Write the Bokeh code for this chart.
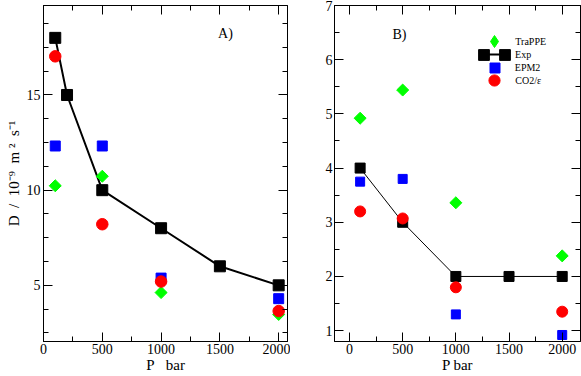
import math
from bokeh.plotting import figure
from bokeh.layouts import row
from bokeh.models import (Range1d, LinearAxis, SingleIntervalTicker, CustomJSTickFormatter,
                          Label, Legend, LegendItem)
from bokeh.embed import file_html
from bokeh.resources import INLINE

FONT = "Liberation Serif"

# ---------------- data ----------------
# Panel A
a_exp_p = [100, 200, 500, 1000, 1500, 2000]
a_exp_d = [18.0, 15.0, 10.0, 8.0, 6.0, 5.0]
a_sim_p = [100, 500, 1000, 2000]
a_trappe = [10.23, 10.73, 4.62, 3.47]
a_epm2 = [12.32, 12.32, 5.38, 4.30]
a_co2e = [17.03, 8.21, 5.20, 3.65]

# Panel B
b_exp_p = [100, 500, 1000, 1500, 2000]
b_exp_d = [4.0, 3.0, 2.0, 2.0, 2.0]
b_sim_p = [100, 500, 1000, 2000]
b_trappe = [4.92, 5.44, 3.36, 2.38]
b_epm2 = [3.75, 3.80, 1.30, 0.92]
b_co2e = [3.20, 3.07, 1.80, 1.35]

GREEN = "#00ff00"
BLUE = "#0000ff"
RED = "#ff0000"

FIG_H = 376
BORDER_TOP = 5
BORDER_BOTTOM = 35
FRAME_H = FIG_H - BORDER_TOP - BORDER_BOTTOM
NB = "\u00a0"


def style(p, xint, xminor, yint, yminor, xlabel, ylabel):
    blank = CustomJSTickFormatter(code="return ''")
    bottom = p.below[0]
    left = p.left[0]
    top = LinearAxis(formatter=blank)
    right = LinearAxis(formatter=blank)
    p.add_layout(top, "above")
    p.add_layout(right, "right")
    for ax, (iv, nm) in ((bottom, (xint, xminor)), (top, (xint, xminor)),
                         (left, (yint, yminor)), (right, (yint, yminor))):
        ax.ticker = SingleIntervalTicker(interval=iv, num_minor_ticks=nm)
        ax.axis_line_color = "black"
        ax.major_tick_line_color = "black"
        ax.minor_tick_line_color = "black"
        ax.major_tick_in = 9
        ax.major_tick_out = 0
        ax.minor_tick_in = 5
        ax.minor_tick_out = 0
        ax.major_label_text_font = FONT
        ax.major_label_text_font_size = "14px"
        ax.major_label_text_color = "black"
        ax.axis_label_text_font = FONT
        ax.axis_label_text_font_size = "15px"
        ax.axis_label_text_font_style = "normal"
        ax.axis_label_text_color = "black"
        ax.major_label_standoff = 2
        ax.axis_label_standoff = 0
    top.major_label_standoff = 0
    right.major_label_standoff = 0
    bottom.axis_label = xlabel
    if ylabel:
        left.axis_label = ylabel
        left.major_label_standoff = 3
        left.axis_label_standoff = 2
    p.xgrid.visible = False
    p.ygrid.visible = False
    p.outline_line_color = "black"
    p.background_fill_color = "white"
    p.border_fill_color = "white"


# ---------------- Panel A ----------------
pa = figure(width=290, height=FIG_H, output_backend="svg", toolbar_location=None,
            x_range=Range1d(0, 2075), y_range=Range1d(2.05, 19.7),
            min_border_left=43, min_border_right=3,
            min_border_top=BORDER_TOP, min_border_bottom=BORDER_BOTTOM)
style(pa, 500, 2, 5, 4, "P" + NB * 3 + "bar",
      "D" + NB * 2 + "/" + NB * 2 + "10\u207b\u2079" + NB * 2 + "m" + NB + "\u00b2"
      + NB * 2 + "s\u207b\u00b9")

pa.line(a_exp_p, a_exp_d, line_color="black", line_width=2)
pa.scatter(a_sim_p, a_trappe, marker="square", angle=math.pi / 4, size=8.5,
           fill_color=GREEN, line_color=GREEN)
pa.scatter(a_sim_p, a_epm2, marker="square", size=10, fill_color=BLUE, line_color=BLUE)
pa.scatter(a_exp_p, a_exp_d, marker="square", size=11, fill_color="black", line_color="black")
pa.scatter(a_sim_p, a_co2e, marker="circle", size=11.5, fill_color=RED, line_color=RED)
pa.add_layout(Label(x=1485, y=18.25, text="A)", text_font=FONT, text_font_size="14px",
                    text_baseline="middle", text_color="black"))

# ---------------- Panel B ----------------
pb = figure(width=291, height=FIG_H, output_backend="svg", toolbar_location=None,
            x_range=Range1d(-141, 2172), y_range=Range1d(0.8, 7.0),
            min_border_left=44, min_border_right=1,
            min_border_top=BORDER_TOP, min_border_bottom=BORDER_BOTTOM)
style(pb, 500, 2, 1, 2, "P bar", "")

b_line = pb.line(b_exp_p, b_exp_d, line_color="black", line_width=1)
b_tr = pb.scatter(b_sim_p, b_trappe, marker="square", angle=math.pi / 4, size=8.5,
                  fill_color=GREEN, line_color=GREEN)
b_ep = pb.scatter(b_sim_p, b_epm2, marker="square", size=9, fill_color=BLUE, line_color=BLUE)
b_ex = pb.scatter(b_exp_p, b_exp_d, marker="square", size=10, fill_color="black", line_color="black")
b_co = pb.scatter(b_sim_p, b_co2e, marker="circle", size=11, fill_color=RED, line_color=RED)
pb.add_layout(Label(x=404, y=6.47, text="B)", text_font=FONT, text_font_size="14px",
                    text_baseline="middle", text_color="black"))

# hidden renderers used only for the legend glyph look
leg_tr = pb.scatter(b_sim_p, b_trappe, marker="diamond", size=12,
                    fill_color=GREEN, line_color=GREEN, visible=False)
leg_line = pb.line(b_exp_p, b_exp_d, line_color="black", line_width=2, visible=False)

LABEL_X = 181  # label start, px from frame left


def add_entry(p, label, renderers, cx, cy, gw, gh, label_x=LABEL_X):
    x = cx - gw / 2
    y = FRAME_H - cy - gh / 2
    lg = Legend(items=[LegendItem(label=label, renderers=renderers)],
                location=(x, y), glyph_width=gw, glyph_height=gh, label_height=10,
                spacing=0, padding=0, margin=0, label_standoff=max(0, int(round(label_x - x - gw))),
                border_line_color=None, background_fill_alpha=0,
                label_text_font=FONT, label_text_font_size="10px", label_text_color="black")
    p.add_layout(lg, "center")


# legend entries (positions in px relative to the frame's top-left)
add_entry(pb, "TraPPE", [leg_tr], 160.3, 36.3, 30, 30)
add_entry(pb, "Exp", [leg_line], 160.6, 49.3, 31, 24)
add_entry(pb, NB, [b_ex], 149.8, 49.3, 27, 27)
add_entry(pb, NB, [b_ex], 170.7, 49.3, 27, 27)
add_entry(pb, "EPM2", [b_ep], 160.3, 62.7, 25, 25)
add_entry(pb, "CO2/\u03b5", [b_co], 160.3, 75.0, 28, 28)

layout = row(pa, pb)
open("out.html", "w").write(file_html(layout, INLINE))
